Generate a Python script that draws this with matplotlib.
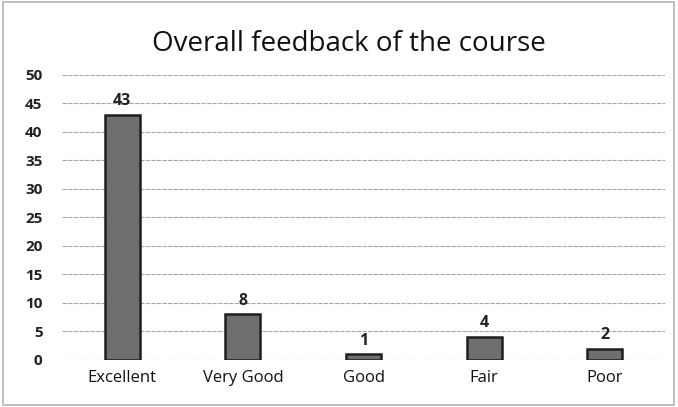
import matplotlib.pyplot as plt
from matplotlib.patches import Rectangle

categories = ['Excellent', 'Very Good', 'Good', 'Fair', 'Poor']
counts = [43, 8, 1, 4, 2]
yticks = [0, 5, 10, 15, 20, 25, 30, 35, 40, 45, 50]

plt.rcParams['font.family'] = ['Open Sans', 'DejaVu Sans']

fig = plt.figure(figsize=(6.78, 4.07), dpi=100)
fig.patch.set_facecolor('white')
fig.patches.append(Rectangle((0.004, 0.005), 0.99, 0.99, transform=fig.transFigure,
                             fill=False, edgecolor='#b5b5b5', linewidth=1.2))

ax = fig.add_axes([0.0914, 0.1155, 0.8896, 0.7005])
x = range(len(categories))
ax.bar(x, counts, width=0.29, color='#6f6f6f', edgecolor='#1e1e1e',
       linewidth=1.8, zorder=3)

for xi, v in zip(x, counts):
    ax.text(xi, v + 1.0, str(v), ha='center', va='bottom', fontsize=11.5,
            fontweight='bold', color='#222222')

ax.set_xlim(-0.5, len(categories) - 0.5)
ax.set_ylim(0, 50)
ax.set_yticks(yticks)
ax.set_yticklabels([str(t) for t in yticks], fontsize=11, fontweight='bold', color='#222222')
ax.set_xticks(list(x))
ax.set_xticklabels(categories, fontsize=12, color='#111111')
ax.tick_params(axis='y', length=0, pad=14)
ax.tick_params(axis='x', length=0, pad=7)
ax.grid(axis='y', color='#a8a8a8', linestyle=(0, (4, 1)), linewidth=0.8, zorder=0)
for side in ['top', 'right', 'left', 'bottom']:
    ax.spines[side].set_visible(False)

fig.text(0.515, 0.893, 'Overall feedback of the course', ha='center', va='center',
         fontsize=20, color='#111111')

fig.savefig('out.png', dpi=100)
